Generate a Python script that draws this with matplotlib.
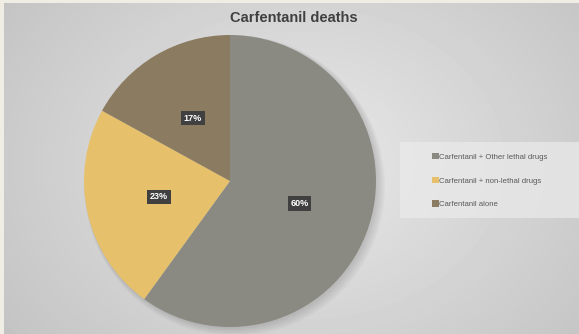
import numpy as np
import matplotlib.pyplot as plt
from matplotlib.patches import Rectangle, Circle

labels = ['Carfentanil + Other lethal drugs', 'Carfentanil + non-lethal drugs', 'Carfentanil alone']
shares = [60, 23, 17]
colors = ['#8a8a83', '#e6c06a', '#8b7b61']
title = 'Carfentanil deaths'

W, H = 579, 334
fig = plt.figure(figsize=(W / 100, H / 100), dpi=100)
fig.patch.set_facecolor('#efede4')

# gradient background of the chart area
bg = fig.add_axes([4 / W, 0, 1 - 4 / W, (H - 3) / H])
yy, xx = np.mgrid[0:331, 0:575]
d = np.sqrt(((xx - 300) / 360.0) ** 2 + ((yy - 160) / 280.0) ** 2)
grad = np.clip(0.91 - 0.14 * d, 0, 1)
bg.imshow(grad, cmap='gray', vmin=0, vmax=1, aspect='auto', interpolation='bilinear')
bg.axis('off')

# lighter legend box
fig.patches.append(Rectangle((400 / W, (H - 218) / H), 179 / W, 76 / H,
                             transform=fig.transFigure, facecolor='#ebebeb',
                             edgecolor='none', alpha=0.7, zorder=1))

ax = fig.add_axes([84 / W, 7 / H, 292 / W, 292 / H])
ax.set_facecolor('none')

# soft shadow
for i in range(6):
    ax.add_patch(Circle((0.012 + 0.004 * i, -0.012 - 0.004 * i), 1.0 + 0.006 * i,
                        facecolor='black', alpha=0.025, edgecolor='none',
                        zorder=0, clip_on=False))

wedges, texts = ax.pie(shares, colors=colors, startangle=90, counterclock=False,
                       labels=[f'{v}%' for v in shares], labeldistance=0.5,
                       wedgeprops=dict(linewidth=0))
for t in texts:
    t.set_color('white')
    t.set_fontsize(6.5)
    t.set_fontweight('bold')
    t.set_family('Liberation Sans')
    t.set_ha('center')
    t.set_va('center')
    t.set_bbox(dict(boxstyle='square,pad=0.3', facecolor='#404040', edgecolor='none'))
ax.set_xlim(-1, 1)
ax.set_ylim(-1, 1)
ax.set_aspect('equal')

fig.text(294 / W, 1 - 18 / H, title, ha='center', va='center', fontsize=10.5,
         fontweight='bold', color='#404040', family='Liberation Sans')

leg = fig.legend(wedges, labels, loc='upper left', bbox_to_anchor=(432 / W, 1 - 153 / H),
                 frameon=False, prop=dict(family='Liberation Sans', size=5.6),
                 labelcolor='#595959',
                 handlelength=0.85, handleheight=0.85, handletextpad=0.1,
                 labelspacing=2.05, borderpad=0, borderaxespad=0)

fig.savefig('out.png', dpi=100)
